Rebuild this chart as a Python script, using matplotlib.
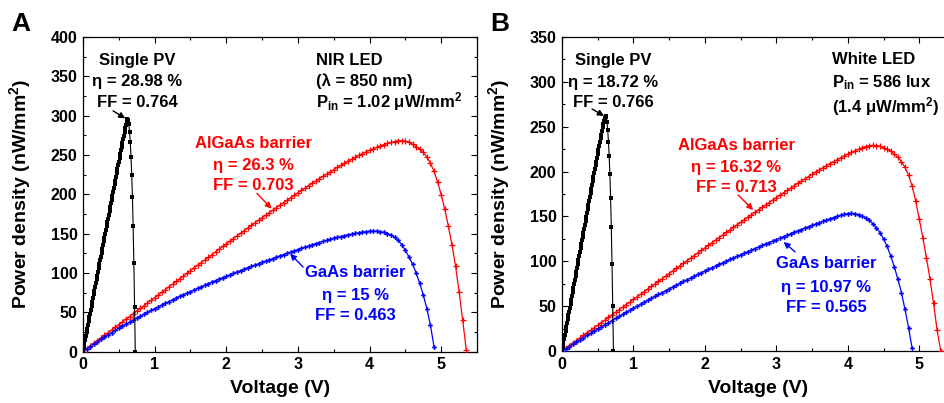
import matplotlib
matplotlib.use("Agg")
import matplotlib.pyplot as plt
from matplotlib.ticker import MultipleLocator

plt.rcParams['font.family'] = ['Liberation Sans', 'DejaVu Sans']
plt.rcParams['font.weight'] = 'bold'
plt.rcParams['mathtext.fontset'] = 'custom'
plt.rcParams['mathtext.rm'] = 'Liberation Sans:bold'
plt.rcParams['mathtext.bf'] = 'Liberation Sans:bold'
plt.rcParams['mathtext.it'] = 'Liberation Sans:bold'
plt.rcParams['axes.linewidth'] = 0.9

# ---- voltage sweeps (V) ----
sweep_tandem = [
    0.00, 0.05, 0.10, 0.15, 0.20, 0.25, 0.30, 0.35, 0.40, 0.45,
    0.50, 0.55, 0.60, 0.65, 0.70, 0.75, 0.80, 0.85, 0.90, 0.95,
    1.00, 1.05, 1.10, 1.15, 1.20, 1.25, 1.30, 1.35, 1.40, 1.45,
    1.50, 1.55, 1.60, 1.65, 1.70, 1.75, 1.80, 1.85, 1.90, 1.95,
    2.00, 2.05, 2.10, 2.15, 2.20, 2.25, 2.30, 2.35, 2.40, 2.45,
    2.50, 2.55, 2.60, 2.65, 2.70, 2.75, 2.80, 2.85, 2.90, 2.95,
    3.00, 3.05, 3.10, 3.15, 3.20, 3.25, 3.30, 3.35, 3.40, 3.45,
    3.50, 3.55, 3.60, 3.65, 3.70, 3.75, 3.80, 3.85, 3.90, 3.95,
    4.00, 4.05, 4.10, 4.15, 4.20, 4.25, 4.30, 4.35, 4.40, 4.45,
    4.50, 4.55, 4.60, 4.65, 4.70, 4.75, 4.80, 4.85, 4.90, 4.95,
    5.00, 5.05, 5.10, 5.15, 5.20, 5.25, 5.30, 5.35,
]
sweep_single = [
    0.00, 0.01, 0.02, 0.03, 0.04, 0.05, 0.06, 0.07, 0.08, 0.09,
    0.10, 0.11, 0.12, 0.13, 0.14, 0.15, 0.16, 0.17, 0.18, 0.19,
    0.20, 0.21, 0.22, 0.23, 0.24, 0.25, 0.26, 0.27, 0.28, 0.29,
    0.30, 0.31, 0.32, 0.33, 0.34, 0.35, 0.36, 0.37, 0.38, 0.39,
    0.40, 0.41, 0.42, 0.43, 0.44, 0.45, 0.46, 0.47, 0.48, 0.49,
    0.50, 0.51, 0.52, 0.53, 0.54, 0.55, 0.56, 0.57, 0.58, 0.59,
    0.60, 0.61, 0.62, 0.63, 0.64, 0.65, 0.66, 0.67, 0.68, 0.69,
    0.70, 0.71, 0.72, 0.73,
]

# ---- panel A: NIR LED, power density (nW/mm^2) ----
nir_single = [
    0.0, 4.8, 9.7, 14.5, 19.3, 24.2, 29.0, 33.8, 38.6, 43.5,
    48.3, 53.1, 58.0, 62.8, 67.6, 72.5, 77.3, 82.1, 86.9, 91.8,
    96.6, 101.4, 106.3, 111.1, 115.9, 120.8, 125.6, 130.4, 135.2, 140.1,
    144.9, 149.7, 154.6, 159.4, 164.2, 169.1, 173.9, 178.7, 183.5, 188.4,
    193.2, 198.0, 202.9, 207.7, 212.5, 217.4, 222.2, 227.0, 231.8, 236.7,
    241.5, 246.3, 251.1, 255.9, 260.6, 265.3, 270.0, 274.6, 279.2, 283.7,
    288.0, 292.3, 295.5, 294.5, 289.0, 279.5, 266.0, 248.0, 225.0, 196.0,
    159.0, 112.0, 57.0, 0.0,
]
nir_algaas = [
    0.0, 3.4, 6.9, 10.3, 13.7, 17.1, 20.6, 24.0, 27.4, 30.8,
    34.3, 37.7, 41.1, 44.5, 48.0, 51.4, 54.8, 58.2, 61.7, 65.1,
    68.5, 71.9, 75.4, 78.8, 82.2, 85.6, 89.1, 92.5, 95.9, 99.3,
    102.8, 106.2, 109.6, 113.0, 116.5, 119.9, 123.3, 126.7, 130.2, 133.6,
    137.0, 140.3, 143.7, 147.0, 150.3, 153.7, 157.0, 160.3, 163.6, 166.9,
    170.2, 173.4, 176.6, 179.8, 183.0, 186.2, 189.4, 192.5, 195.7, 198.8,
    201.9, 205.0, 208.0, 211.1, 214.0, 217.0, 219.9, 222.8, 225.7, 228.5,
    231.4, 234.1, 236.8, 239.4, 242.1, 244.6, 247.0, 249.4, 251.7, 253.9,
    256.0, 257.9, 259.7, 261.5, 263.1, 264.6, 265.9, 267.0, 267.8, 268.1,
    267.6, 266.0, 263.5, 260.6, 257.4, 253.2, 247.5, 239.5, 229.0, 215.5,
    199.5, 181.0, 159.5, 136.0, 109.0, 76.0, 40.0, 2.0,
]
nir_gaas = [
    0.0, 3.2, 6.3, 9.4, 12.4, 15.4, 18.3, 21.2, 24.0, 26.8,
    29.5, 32.2, 34.8, 37.4, 39.9, 42.5, 44.9, 47.3, 49.8, 52.2,
    54.5, 56.8, 59.1, 61.3, 63.5, 65.8, 67.9, 70.1, 72.2, 74.2,
    76.3, 78.3, 80.3, 82.3, 84.3, 86.3, 88.2, 90.1, 92.0, 93.8,
    95.6, 97.5, 99.3, 101.2, 103.0, 104.7, 106.5, 108.2, 109.9, 111.6,
    113.3, 114.9, 116.5, 118.2, 119.9, 121.6, 123.2, 124.8, 126.4, 128.0,
    129.6, 131.2, 132.7, 134.2, 135.7, 137.2, 138.6, 140.0, 141.4, 142.7,
    143.9, 145.0, 146.2, 147.3, 148.4, 149.3, 150.1, 150.9, 151.7, 152.5,
    153.0, 153.1, 152.9, 152.5, 151.6, 150.0, 148.0, 145.0, 141.2, 135.8,
    128.6, 120.3, 111.2, 100.0, 86.8, 72.0, 54.5, 33.5, 6.0,
]

# ---- panel B: white LED, power density (nW/mm^2) ----
white_single = [
    0.0, 4.4, 8.8, 13.2, 17.6, 22.0, 26.4, 30.8, 35.2, 39.6,
    44.0, 48.4, 52.8, 57.2, 61.6, 66.0, 70.4, 74.8, 79.2, 83.6,
    88.0, 92.4, 96.8, 101.2, 105.6, 110.0, 114.4, 118.8, 123.2, 127.6,
    132.0, 136.4, 140.8, 145.2, 149.6, 154.0, 158.4, 162.8, 167.2, 171.6,
    176.0, 180.4, 184.8, 189.2, 193.6, 198.0, 202.4, 206.8, 211.2, 215.6,
    220.0, 224.4, 228.7, 233.0, 237.2, 241.3, 245.3, 249.2, 253.0, 256.5,
    259.6, 261.8, 260.5, 255.0, 246.0, 233.5, 217.5, 197.0, 171.0, 138.0,
    97.0, 50.0, 0.0,
]
white_algaas = [
    0.0, 2.9, 5.8, 8.6, 11.5, 14.4, 17.3, 20.1, 23.0, 25.9,
    28.8, 31.6, 34.5, 37.4, 40.3, 43.1, 46.0, 48.9, 51.8, 54.6,
    57.5, 60.4, 63.3, 66.1, 69.0, 71.9, 74.8, 77.6, 80.5, 83.4,
    86.3, 89.1, 92.0, 94.9, 97.8, 100.6, 103.5, 106.4, 109.3, 112.1,
    115.0, 117.9, 120.7, 123.6, 126.4, 129.3, 132.1, 134.9, 137.7, 140.6,
    143.4, 146.2, 149.0, 151.7, 154.5, 157.3, 160.0, 162.8, 165.5, 168.3,
    171.0, 173.7, 176.3, 179.0, 181.6, 184.2, 186.8, 189.4, 192.0, 194.5,
    197.1, 199.5, 201.9, 204.3, 206.6, 208.8, 211.1, 213.2, 215.3, 217.5,
    219.6, 221.5, 223.2, 224.9, 226.5, 227.8, 228.8, 229.2, 229.0, 228.3,
    226.8, 225.0, 222.8, 219.8, 216.0, 211.0, 204.8, 196.0, 184.0, 167.0,
    147.0, 126.0, 104.0, 80.0, 53.0, 23.0, 0.0,
]
white_gaas = [
    0.0, 2.5, 5.0, 7.5, 9.9, 12.4, 14.8, 17.3, 19.7, 22.1,
    24.5, 26.9, 29.2, 31.6, 33.9, 36.3, 38.6, 40.9, 43.2, 45.4,
    47.7, 49.9, 52.1, 54.3, 56.5, 58.7, 60.8, 63.0, 65.1, 67.2,
    69.3, 71.4, 73.4, 75.4, 77.5, 79.5, 81.4, 83.4, 85.3, 87.3,
    89.2, 91.1, 92.9, 94.8, 96.6, 98.4, 100.2, 102.0, 103.8, 105.5,
    107.3, 109.0, 110.8, 112.5, 114.2, 115.9, 117.6, 119.3, 120.9, 122.6,
    124.2, 125.8, 127.5, 129.1, 130.7, 132.3, 133.8, 135.4, 137.0, 138.5,
    140.0, 141.5, 143.0, 144.5, 145.9, 147.4, 148.7, 150.0, 151.1, 152.2,
    153.1, 153.4, 153.0, 152.0, 150.5, 148.3, 145.5, 141.8, 137.5, 132.0,
    125.0, 116.5, 106.0, 94.0, 80.0, 65.0, 46.5, 26.0, 3.0,
]

RED = '#ff0000'
BLUE = '#0000ff'
BLACK = '#000000'

fig = plt.figure(figsize=(9.44, 4.03), dpi=100)
axA = fig.add_axes([83 / 944, 51.5 / 403, 394 / 944, 314.5 / 403])
axB = fig.add_axes([562 / 944, 52 / 403, 393 / 944, 314 / 403])


def draw_curves(ax, single, algaas, gaas):
    ax.plot(sweep_tandem[:len(algaas)], algaas, color=RED, lw=0.9,
            marker='+', ms=4, mew=0.9, zorder=3)
    ax.plot(sweep_tandem[:len(gaas)], gaas, color=BLUE, lw=0.9,
            marker='P', ms=3.4, mew=0, zorder=4)
    ax.plot(sweep_single[:len(single)], single, color=BLACK, lw=0.8,
            marker='s', ms=2.3, mew=0, zorder=5)


def style_axes(ax, ymax):
    ax.set_xlim(0, 5.5)
    ax.set_ylim(0, ymax)
    ax.xaxis.set_major_locator(MultipleLocator(1))
    ax.xaxis.set_minor_locator(MultipleLocator(0.5))
    ax.yaxis.set_major_locator(MultipleLocator(50))
    ax.yaxis.set_minor_locator(MultipleLocator(25))
    ax.tick_params(which='both', direction='in', top=True, right=True,
                   width=0.8, labelsize=11.5, pad=4)
    ax.tick_params(which='major', length=4.5)
    ax.tick_params(which='minor', length=2.5)
    ax.set_xlabel('Voltage (V)', fontsize=14, fontweight='bold')
    ax.set_ylabel('Power density (nW/mm$^{2}$)', fontsize=14, fontweight='bold')
    ax.xaxis.set_label_coords(0.5, -0.092)
    ax.yaxis.set_label_coords(-0.128, 0.5)


def arrow(ax, tail, head, color):
    ax.annotate('', xy=head, xytext=tail,
                arrowprops=dict(arrowstyle='-|>', color=color, lw=1.0,
                                mutation_scale=9, shrinkA=0, shrinkB=0),
                zorder=6)


def block(ax, x, ys, lines, color, ha='center'):
    for y, s in zip(ys, lines):
        ax.text(x, y, s, color=color, fontsize=12, fontweight='bold',
                ha=ha, va='baseline', zorder=7)


# Panel A
draw_curves(axA, nir_single, nir_algaas, nir_gaas)
style_axes(axA, 400)
block(axA, 0.754, [363.8, 337.1, 310.5],
      ['Single PV', 'η = 28.98 %', 'FF = 0.764'], BLACK)
block(axA, 3.254, [363.8, 337.1, 310.5],
      ['NIR LED', '(λ = 850 nm)', r'P$_{\mathrm{in}}$ = 1.02 μW/mm$^{2}$'],
      BLACK, ha='left')
block(axA, 2.374, [258.4, 230.5, 205.1],
      ['AlGaAs barrier', 'η = 26.3 %', 'FF = 0.703'], RED)
block(axA, 3.799, [94.6, 65.4, 40.0],
      ['GaAs barrier', 'η = 15 %', 'FF = 0.463'], BLUE)
arrow(axA, (0.42, 306.0), (0.59, 296.5), BLACK)
arrow(axA, (2.43, 201.0), (2.633, 181.6), RED)
arrow(axA, (3.073, 107.3), (2.891, 124.4), BLUE)

# Panel B
draw_curves(axB, white_single, white_algaas, white_gaas)
style_axes(axB, 350)
block(axB, 0.714, [318.8, 294.3, 272.0],
      ['Single PV', 'η = 18.72 %', 'FF = 0.766'], BLACK)
block(axB, 3.782, [319.9, 294.3, 266.4],
      ['White LED', r'P$_{\mathrm{in}}$ = 586 lux', '(1.4 μW/mm$^{2}$)'],
      BLACK, ha='left')
block(axB, 2.437, [224.1, 199.5, 177.2],
      ['AlGaAs barrier', 'η = 16.32 %', 'FF = 0.713'], RED)
block(axB, 3.697, [92.5, 65.8, 43.5],
      ['GaAs barrier', 'η = 10.97 %', 'FF = 0.565'], BLUE)
arrow(axB, (0.42, 269.8), (0.588, 262.0), BLACK)
arrow(axB, (2.465, 173.9), (2.675, 157.2), RED)
arrow(axB, (3.263, 110.4), (3.102, 121.5), BLUE)

fig.text(21 / 944, 1 - 24 / 403, 'A', fontsize=19, fontweight='bold',
         ha='center', va='center')
fig.text(500 / 944, 1 - 24 / 403, 'B', fontsize=19, fontweight='bold',
         ha='center', va='center')

fig.savefig('out.png', dpi=100)
